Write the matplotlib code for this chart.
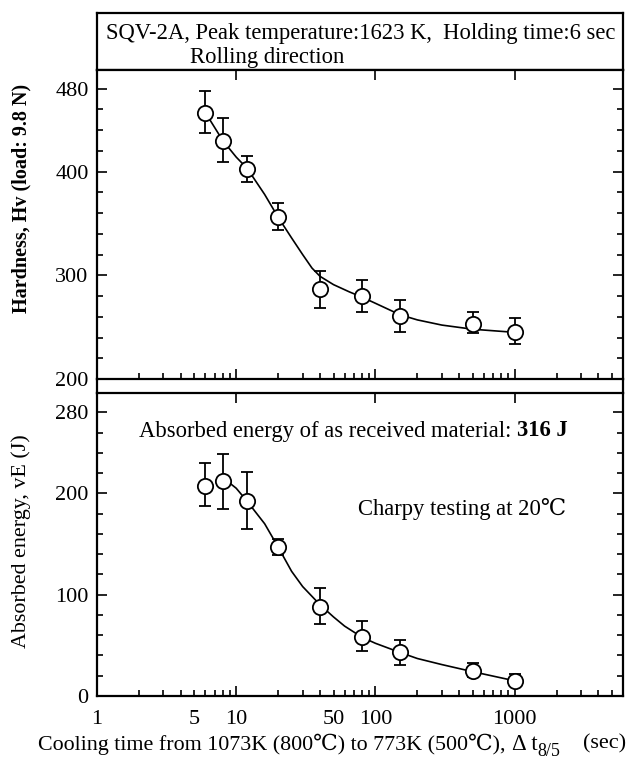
import matplotlib
matplotlib.use('Agg')
import matplotlib.pyplot as plt
from matplotlib.ticker import FixedLocator, MultipleLocator, FuncFormatter, NullFormatter
from matplotlib.lines import Line2D

plt.rcParams['font.family'] = ['Liberation Serif', 'DejaVu Serif']

# cooling time dt8/5 (sec)
cool_time = [6, 8, 12, 20, 40, 80, 150, 500, 1000]

# hardness Hv, with error bar ends
hardness = [457, 430, 403, 356, 287, 280, 261, 253, 245]
hard_hi = [478, 452, 415, 370, 304, 295, 276, 265, 259]
hard_lo = [437, 409, 390, 344, 268, 265, 245, 244, 234]

# absorbed energy vE (J), with error bar ends
energy = [207, 212, 192, 147, 88, 58, 43, 25, 15]
energy_hi = [230, 239, 221, 155, 107, 74, 55, 33, 22]
energy_lo = [187, 185, 165, 139, 71, 44, 31, 19, 10]

# hand drawn trend curves
hard_curve_x = [6, 8, 10, 12, 16, 20, 25, 30, 35, 40, 50, 65, 80, 100, 150, 200, 300, 500, 1000]
hard_curve_y = [457, 430, 414, 403, 378, 356, 336, 320, 307, 299, 291, 284, 279, 273, 262, 257, 252, 248, 245]
energy_curve_x = [8, 9, 10, 12, 16, 20, 25, 30, 40, 50, 60, 80, 100, 150, 200, 300, 500, 1000]
energy_curve_y = [212, 210, 205, 192, 170, 147, 123, 108, 90, 78, 69, 58, 52, 43, 37, 31, 24, 15]

W, H = 628, 773
fig = plt.figure(figsize=(W / 100, H / 100), dpi=100)

def box(x0, y0, x1, y1):
    # pixel box (top-left origin) -> axes rect
    return [x0 / W, 1 - y1 / H, (x1 - x0) / W, (y1 - y0) / H]

def fx(px):
    return px / W

def fy(py):
    return 1 - py / H

L, R = 97, 623
ax_head = fig.add_axes(box(L, 13, R, 70))
ax_top = fig.add_axes(box(L, 70, R, 379))
ax_bot = fig.add_axes(box(L, 393, R, 696))

lw = 1.6
fs = 16.3
ax_head.set_xticks([])
ax_head.set_yticks([])
for s in ax_head.spines.values():
    s.set_linewidth(lw)
fig.text(fx(361), fy(33), 'SQV-2A, Peak temperature:1623 K,  Holding time:6 sec',
         ha='center', va='center', fontsize=fs)
fig.text(fx(267), fy(58), 'Rolling direction', ha='center', va='center',
         fontsize=fs)

# frame continues through the gap between panels
for xp in (L, R):
    fig.add_artist(Line2D([fx(xp), fx(xp)], [fy(393), fy(379)],
                          color='black', lw=lw, transform=fig.transFigure))


def style(ax, ylim, yticks):
    ax.set_xscale('log')
    ax.set_xlim(1, 6000)
    ax.set_ylim(*ylim)
    for s in ax.spines.values():
        s.set_linewidth(lw)
    ax.yaxis.set_major_locator(FixedLocator(yticks))
    ax.yaxis.set_minor_locator(MultipleLocator(20))
    ax.xaxis.set_major_locator(FixedLocator([1, 10, 100, 1000]))
    minors = [m * d for d in (1, 10, 100, 1000) for m in range(2, 10)]
    ax.xaxis.set_minor_locator(FixedLocator(minors))
    ax.tick_params(axis='both', which='both', direction='in', width=1.2,
                   labelsize=16, right=True, top=True)
    ax.tick_params(which='major', length=7)
    ax.tick_params(which='minor', length=4.5)
    ax.tick_params(axis='x', which='minor', top=False)
    ax.tick_params(axis='y', pad=6)


def draw(ax, y, lo, hi, cx, cy):
    ax.errorbar(cool_time, y, yerr=[[a - b for a, b in zip(y, lo)],
                                   [b - a for a, b in zip(y, hi)]],
                fmt='none', ecolor='black', elinewidth=1.3, capsize=4,
                capthick=1.3, zorder=2)
    ax.plot(cx, cy, color='black', lw=1.2, zorder=1)
    ax.plot(cool_time, y, 'o', ms=11, mfc='white', mec='black', mew=1.3,
            zorder=3)


style(ax_top, (200, 498), [200, 300, 400, 480])
ax_top.xaxis.set_major_formatter(NullFormatter())
ax_top.xaxis.set_minor_formatter(NullFormatter())
draw(ax_top, hardness, hard_lo, hard_hi, hard_curve_x, hard_curve_y)

style(ax_bot, (0, 299), [0, 100, 200, 280])
ax_bot.xaxis.set_major_formatter(FuncFormatter(lambda v, p: '%d' % v))
ax_bot.xaxis.set_minor_formatter(
    FuncFormatter(lambda v, p: '%d' % round(v) if round(v) in (5, 50) else ''))
ax_bot.tick_params(axis='x', which='both', pad=10)
draw(ax_bot, energy, energy_lo, energy_hi, energy_curve_x, energy_curve_y)

fig.text(fx(517), fy(431), 'Absorbed energy of as received material: ',
         ha='right', va='center', fontsize=fs)
fig.text(fx(517), fy(431), '316 J', ha='left', va='center',
         fontsize=fs, fontweight='bold')
fig.text(fx(462), fy(509), 'Charpy testing at 20\u2103', ha='center',
         va='center', fontsize=fs)

fig.text(fx(21), fy(198), 'Hardness, Hv (load: 9.8 N)', rotation=90,
         ha='center', va='center', fontsize=14.5, fontweight='bold')
fig.text(fx(21), fy(541), 'Absorbed energy, vE (J)', rotation=90,
         ha='center', va='center', fontsize=15.8)

# x axis title, pieced together for the subscript
fig.text(fx(505), fy(744), 'Cooling time from 1073K (800\u2103) to 773K (500\u2103),',
         ha='right', va='center', fontsize=15.8)
fig.text(fx(512), fy(744), '\u0394 t', ha='left', va='center', fontsize=16.5)
fig.text(fx(537), fy(752), '8/5', ha='left', va='center', fontsize=13)
fig.text(fx(626), fy(744), '(sec)', ha='right', va='center', fontsize=16)

fig.savefig('out.png', dpi=100)
